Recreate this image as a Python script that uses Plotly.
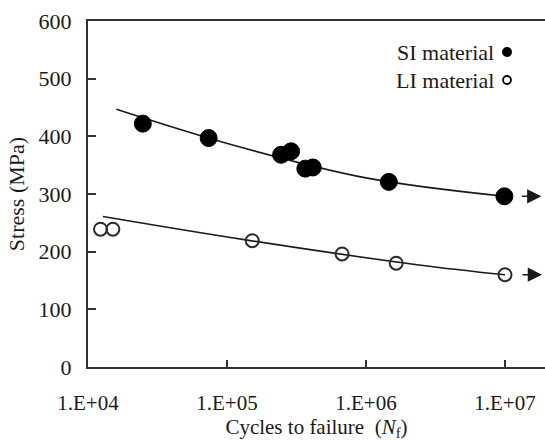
import numpy as np
import plotly.graph_objects as go

# ---- data ----
si_cycles = [2.48e4, 7.38e4, 2.45e5, 2.89e5, 3.66e5, 4.14e5, 1.46e6, 9.9e6]
si_stress = [422, 397, 368, 374, 344, 346, 321, 296]
li_cycles = [1.23e4, 1.51e4, 1.52e5, 6.73e5, 1.65e6, 1.0e7]
li_stress = [239, 239, 219, 196, 180, 160]

si_fit_cycles = [1.6e4, 1.1e5, 1.0e6, 1.0e7]
si_fit_stress = [447, 385, 328, 296]
li_fit_cycles = [1.28e4, 1.4e5, 2.4e6, 1.0e7]
li_fit_stress = [261, 220, 177, 160]

x_tickvals = [1e4, 1e5, 1e6, 1e7]
x_ticktext = ["1.E+04", "1.E+05", "1.E+06", "1.E+07"]
legend_labels = ["SI material", "LI material"]

# ---- layout constants (pixels) ----
W, H = 545, 441
L, R, T, B = 88, 0, 21, 74
PW = W - L - R
PH = H - T - B
FONT = "Liberation Serif"
INK = "#1a1a1a"

def px_x(px):
    return (px - L) / PW

def px_y(py):
    return 1 - (py - T) / PH

fig = go.Figure()

fig.add_trace(go.Scatter(x=si_fit_cycles, y=si_fit_stress, mode="lines",
                         line=dict(color=INK, width=1.6, shape="spline", smoothing=1.0),
                         showlegend=False, hoverinfo="skip"))
fig.add_trace(go.Scatter(x=li_fit_cycles, y=li_fit_stress, mode="lines",
                         line=dict(color=INK, width=1.6, shape="spline", smoothing=1.0),
                         showlegend=False, hoverinfo="skip"))
fig.add_trace(go.Scatter(x=si_cycles, y=si_stress, mode="markers",
                         marker=dict(symbol="circle", size=17, color="#000000",
                                     line=dict(color="#000000", width=1)),
                         name=legend_labels[0], showlegend=False))
fig.add_trace(go.Scatter(x=li_cycles, y=li_stress, mode="markers",
                         marker=dict(symbol="circle-open", size=13, color="#2a2a2a",
                                     line=dict(color="#2a2a2a", width=2)),
                         name=legend_labels[1], showlegend=False))

# run-out arrows placed relative to the last (run-out) point of each series
for cyc, st in [(si_cycles[-1], si_stress[-1]), (li_cycles[-1], li_stress[-1])]:
    fig.add_annotation(x=np.log10(cyc), y=st, xref="x", yref="y",
                       ax=-21, ay=0, axref="pixel", ayref="pixel",
                       xshift=37, text="", showarrow=True,
                       arrowhead=2, arrowsize=1.9, arrowwidth=1.5, arrowcolor=INK)

# legend drawn as text + symbols
leg_rows = [(52, True), (80, False)]
for label, (py, filled) in zip(legend_labels, leg_rows):
    fig.add_annotation(x=px_x(496), y=px_y(py), xref="paper", yref="paper",
                       text=label, showarrow=False, xanchor="right", yanchor="middle",
                       font=dict(family=FONT, size=22, color=INK))
    d = 10 if filled else 8
    fig.add_shape(type="circle", xref="paper", yref="paper",
                  xsizemode="pixel", ysizemode="pixel",
                  xanchor=px_x(507), yanchor=px_y(py),
                  x0=-d / 2, x1=d / 2, y0=-d / 2, y1=d / 2,
                  fillcolor="#000000" if filled else "rgba(0,0,0,0)",
                  line=dict(color="#000000", width=0 if filled else 1.8))

fig.update_layout(
    width=W, height=H,
    margin=dict(l=L, r=R, t=T, b=B, pad=0),
    paper_bgcolor="white", plot_bgcolor="white",
    font=dict(family=FONT, size=22, color=INK),
    showlegend=False,
)
fig.update_xaxes(
    type="log", range=[4, 4 + PW / 139.0],
    tickvals=x_tickvals, ticktext=x_ticktext,
    ticks="inside", ticklen=7, tickwidth=1.5, tickcolor="#333",
    showline=True, linewidth=2, linecolor="#333", mirror=True,
    showgrid=False, zeroline=False,
    ticklabelstandoff=16,
    tickfont=dict(family=FONT, size=21, color=INK),
    title=dict(text="Cycles to failure  (<i>N</i><sub>f</sub>)",
               font=dict(family=FONT, size=21, color=INK), standoff=9),
)
fig.update_yaxes(
    range=[0, 600], dtick=100,
    ticks="inside", ticklen=8, tickwidth=1.5, tickcolor="#333",
    showline=True, linewidth=2, linecolor="#333",
    showgrid=False, zeroline=False,
    ticklabelstandoff=10,
    tickfont=dict(family=FONT, size=22, color=INK),
    title=dict(text="Stress (MPa)", font=dict(family=FONT, size=22, color=INK), standoff=8),
)

fig.write_html("out.html")
